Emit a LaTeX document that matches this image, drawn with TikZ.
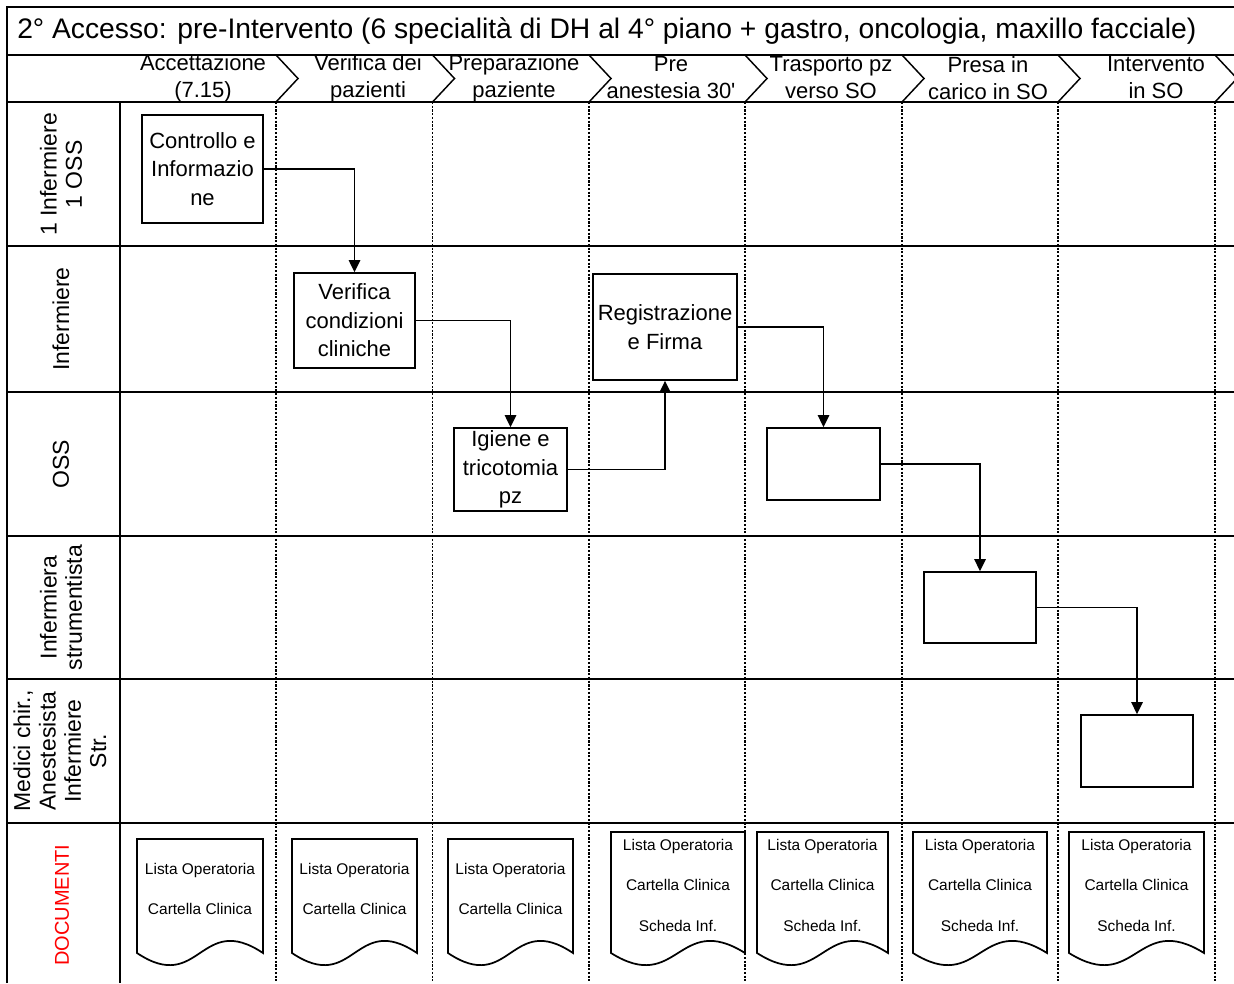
\documentclass[tikz,border=0pt]{standalone}
\usepackage{fontspec}
\setmainfont{Liberation Sans}
\usetikzlibrary{arrows.meta}
\begin{document}
\begin{tikzpicture}[x=0.75pt,y=-0.75pt,
  frame/.style={line width=1.1pt},
  colsep/.style={line width=1.1pt, dash pattern=on 1.6pt off 1.2pt},
  stepbox/.style={draw, line width=1.3pt, fill=white, inner sep=0pt, align=center,
    font=\fontsize{16.5pt}{21.4pt}\selectfont},
  flow/.style={line width=1.4pt, -{Triangle[width=8.5pt,length=9pt]}},
  phase/.style={align=center, inner sep=0pt, font=\fontsize{16.5pt}{20.25pt}\selectfont},
  role/.style={rotate=90, align=center, inner sep=0pt, font=\fontsize{17.25pt}{19pt}\selectfont},
  docshape/.style={draw, line width=1.3pt, fill=white},
  doctext/.style={align=center, inner sep=0pt, font=\fontsize{11.6pt}{30.4pt}\selectfont},
]
% canvas
\useasboundingbox[fill=white] (0,0) rectangle (1234,983);

% outer frame, title row and phase row
\draw[frame] (7,983) -- (7,7) -- (1234,7);
\draw[frame] (7,55) -- (1234,55);
\draw[frame] (7,102) -- (1234,102);
\foreach \b in {276,432.5,589,745,902,1058,1215}{
  \draw[frame] (\b,55) -- (\b+22,78.5) -- (\b,102);
  \draw[colsep] (\b,102) -- (\b,983);
}
% swimlane separators
\foreach \y in {246,392,536,679,823}{
  \draw[frame] (7,\y) -- (1234,\y);
}
\draw[frame] (120,102) -- (120,983);

% title
\node[anchor=west, inner sep=0pt, font=\fontsize{21.2pt}{25pt}\selectfont] (title) at (17,31)
  {2° Accesso: pre-Intervento (6 specialità di DH al 4° piano + gastro, oncologia, maxillo facciale)};

% phases
\node[phase] (ph1) at (203,78) {Accettazione\\(7.15)};
\node[phase] (ph2) at (368,78) {Verifica dei\\pazienti};
\node[phase] (ph3) at (514,78) {Preparazione\\paziente};
\node[phase] (ph4) at (671,78) {Pre\\anestesia 30\textquotesingle};
\node[phase] (ph5) at (831,78) {Trasporto pz\\verso SO};
\node[phase] (ph6) at (988,78) {Presa in\\carico in SO};
\node[phase] (ph7) at (1156,78) {Intervento\\in SO};

% roles
\node[role] (r1) at (61,174.5) {1 Infermiere\\1 OSS};
\node[role] (r2) at (61,319) {Infermiere};
\node[role] (r3) at (61,464) {OSS};
\node[role] (r4) at (61,607.5) {Infermiera\\strumentista};
\node[role] (r5) at (60,751) {Medici chir.,\\Anestesista\\Infermiere\\Str.};
\node[role, text=red, font=\fontsize{15pt}{17pt}\selectfont] (r6) at (62,905) {DOCUMENTI};

% activities
\node[stepbox, minimum width=90.75pt, minimum height=81pt] (ctrl) at (202.5,169) {Controllo e\\Informazio\\ne};
\node[stepbox, minimum width=90.75pt, minimum height=71.25pt] (verif) at (354.5,320.5) {Verifica\\condizioni\\cliniche};
\node[stepbox, minimum width=84.75pt, minimum height=62.25pt] (igiene) at (510.5,469.5) {Igiene e\\tricotomia\\pz};
\node[stepbox, minimum width=108pt, minimum height=79.5pt] (reg) at (665,327) {Registrazione\\e Firma};
\node[stepbox, minimum width=84.75pt, minimum height=54pt] (b1) at (823.5,464) {};
\node[stepbox, minimum width=84pt, minimum height=53.25pt] (b2) at (980,607.5) {};
\node[stepbox, minimum width=84pt, minimum height=54pt] (b3) at (1137,751) {};

% flow
\draw[flow] (ctrl.east) -| (verif.north);
\draw[flow] (verif.east) -| (igiene.north);
\draw[flow] (igiene.east) -| (reg.south);
\draw[flow] (reg.east) -| (b1.north);
\draw[flow] (b1.east) -| (b2.north);
\draw[flow] (b2.east) -| (b3.north);

% documents
\foreach \l/\r/\t in {137/263/839,292/417/839,448/573/839,611/745/832,757/888/832,913/1047/832,1069/1204/832}{
  \draw[docshape] (\l,\t) -- (\r,\t) -- (\r,953)
    .. controls ({(\l+\r)/2},911) and ({(\l+\r)/2},995) .. (\l,953) -- cycle;
}
\node[doctext] (d1) at (200,889) {Lista Operatoria\\Cartella Clinica};
\node[doctext] (d2) at (354.5,889) {Lista Operatoria\\Cartella Clinica};
\node[doctext] (d3) at (510.5,889) {Lista Operatoria\\Cartella Clinica};
\node[doctext] (d4) at (678,885) {Lista Operatoria\\Cartella Clinica\\Scheda Inf.};
\node[doctext] (d5) at (822.5,885) {Lista Operatoria\\Cartella Clinica\\Scheda Inf.};
\node[doctext] (d6) at (980,885) {Lista Operatoria\\Cartella Clinica\\Scheda Inf.};
\node[doctext] (d7) at (1136.5,885) {Lista Operatoria\\Cartella Clinica\\Scheda Inf.};
\end{tikzpicture}
\end{document}
